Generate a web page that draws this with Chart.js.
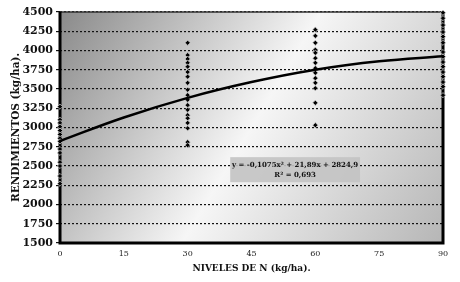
<!DOCTYPE html>
<html>
<head>
<meta charset="utf-8">
<script src="https://cdn.jsdelivr.net/npm/chart.js@4.4.1/dist/chart.umd.min.js"></script>
<style>
  html, body { margin: 0; padding: 0; background: #fff; }
  #wrap { width: 460px; height: 282px; position: relative; }
</style>
</head>
<body>
<div id="wrap"><canvas id="myChart"></canvas></div>
<script>
// N doses (kg/ha) and yields
const yield0 = [3270, 3100, 3060, 3010, 2960, 2910, 2860, 2820, 2720, 2670, 2550, 2500, 2370, 2270];
const yield30 = [4100, 3940, 3890, 3840, 3790, 3720, 3660, 3580, 3490, 3420, 3360, 3290, 3230, 3160, 3120, 3060, 2990, 2810, 2770];
const yield60 = [4270, 4190, 4100, 4010, 3970, 3900, 3840, 3770, 3710, 3640, 3580, 3510, 3320, 3030];
const yield90 = [4490, 4420, 4330, 4240, 4180, 4100, 3980, 3920, 3850, 3790, 3720, 3660, 3590, 3530, 3420];
const doses = [0, 30, 60, 90];

// trend curve
const curveX = [0, 15, 30, 45, 60, 75, 90];
const curveY = [2825, 3130, 3385, 3590, 3750, 3860, 3925];

const xTicks = [0, 15, 30, 45, 60, 75, 90];
const yMin = 1500, yMax = 4500, yStep = 250;

const eqText = ['y = -0,1075x\u00B2 + 21,89x + 2824,9', 'R\u00B2 = 0,693'];

const serif = '"DejaVu Serif", "Liberation Serif", serif';

document.addEventListener('DOMContentLoaded', () => {
    const ctx = document.getElementById('myChart').getContext('2d');

    const scatter = [];
    [yield0, yield30, yield60, yield90].forEach((arr, i) => {
        arr.forEach(v => scatter.push({ x: doses[i], y: v }));
    });
    const curve = curveX.map((x, i) => ({ x: x, y: curveY[i] }));

    // gradient plot background, frame and equation box
    const plotBack = {
        id: 'plotBack',
        beforeDraw(chart) {
            const a = chart.chartArea;
            const c = chart.ctx;
            const g = c.createLinearGradient(a.left, a.top, a.right, a.bottom);
            g.addColorStop(0, '#8a8a8a');
            g.addColorStop(0.5, '#f6f6f6');
            g.addColorStop(1, '#b6b6b6');
            c.save();
            c.fillStyle = g;
            c.fillRect(a.left, a.top, a.right - a.left, a.bottom - a.top);
            c.restore();
        },
        beforeDatasetsDraw(chart) {
            const a = chart.chartArea;
            const c = chart.ctx;
            c.save();
            c.strokeStyle = '#333';
            c.lineWidth = 1.5;
            c.beginPath();
            c.moveTo(a.left, a.top);
            c.lineTo(a.right, a.top);
            c.stroke();
            c.strokeStyle = '#000';
            c.lineWidth = 3;
            c.beginPath();
            c.moveTo(a.left, a.top);
            c.lineTo(a.left, a.bottom);
            c.lineTo(a.right, a.bottom);
            c.lineTo(a.right, a.top);
            c.stroke();

            const xs = chart.scales.x, ys = chart.scales.y;
            const x1 = xs.getPixelForValue(40), x2 = xs.getPixelForValue(70.5);
            const y1 = ys.getPixelForValue(2615), y2 = ys.getPixelForValue(2290);
            c.fillStyle = 'rgba(195,195,195,0.9)';
            c.fillRect(x1, y1, x2 - x1, y2 - y1);
            c.fillStyle = '#111';
            c.font = 'bold 7px ' + serif;
            c.textAlign = 'center';
            c.textBaseline = 'middle';
            c.fillText(eqText[0], (x1 + x2) / 2, y1 + 8);
            c.fillText(eqText[1], (x1 + x2) / 2, y1 + 18);
            c.restore();
        }
    };

    new Chart(ctx, {
        type: 'scatter',
        data: {
            datasets: [{
                label: 'Curva',
                data: curve,
                showLine: true,
                borderColor: '#000',
                borderWidth: 2.5,
                pointRadius: 0,
                tension: 0.4,
                fill: false
            }, {
                label: 'Datos',
                data: scatter,
                clip: false,
                pointStyle: 'rectRot',
                pointRadius: 2.6,
                pointBackgroundColor: '#000',
                pointBorderColor: '#c8c8c8',
                pointBorderWidth: 0.8
            }]
        },
        options: {
            responsive: true,
            maintainAspectRatio: false,
            animation: false,
            layout: { padding: { top: 12, right: 17, left: 0, bottom: 0 } },
            plugins: {
                legend: { display: false },
                tooltip: { enabled: false }
            },
            scales: {
                x: {
                    type: 'linear',
                    min: 0,
                    max: 90,
                    afterBuildTicks(scale) {
                        scale.ticks = xTicks.map(v => ({ value: v }));
                    },
                    afterFit(scale) { scale.height = 39; },
                    grid: { display: false, drawTicks: false },
                    border: { display: false },
                    ticks: {
                        padding: 6,
                        color: '#222',
                        font: { family: serif, size: 8 },
                        maxRotation: 0,
                        callback: v => String(v)
                    },
                    title: {
                        display: true,
                        text: 'NIVELES DE N (kg/ha).',
                        color: '#111',
                        font: { family: serif, size: 9, weight: 'bold' },
                        padding: { top: 0, bottom: 8 }
                    }
                },
                y: {
                    min: yMin,
                    max: yMax,
                    afterFit(scale) { scale.width = 60; },
                    grid: {
                        color: '#111',
                        lineWidth: 1.2,
                        tickLength: 4,
                        drawTicks: true
                    },
                    border: { display: false, dash: [2, 2] },
                    ticks: {
                        stepSize: yStep,
                        padding: 3,
                        color: '#111',
                        font: { family: serif, size: 11, weight: 'bold' },
                        callback: v => String(v)
                    },
                    title: {
                        display: true,
                        text: 'RENDIMIENTOS (kg/ha).',
                        color: '#111',
                        font: { family: serif, size: 10.5, weight: 'bold' },
                        padding: { top: 10, bottom: 0 }
                    }
                }
            }
        },
        plugins: [plotBack]
    });
});
</script>
</body>
</html>
